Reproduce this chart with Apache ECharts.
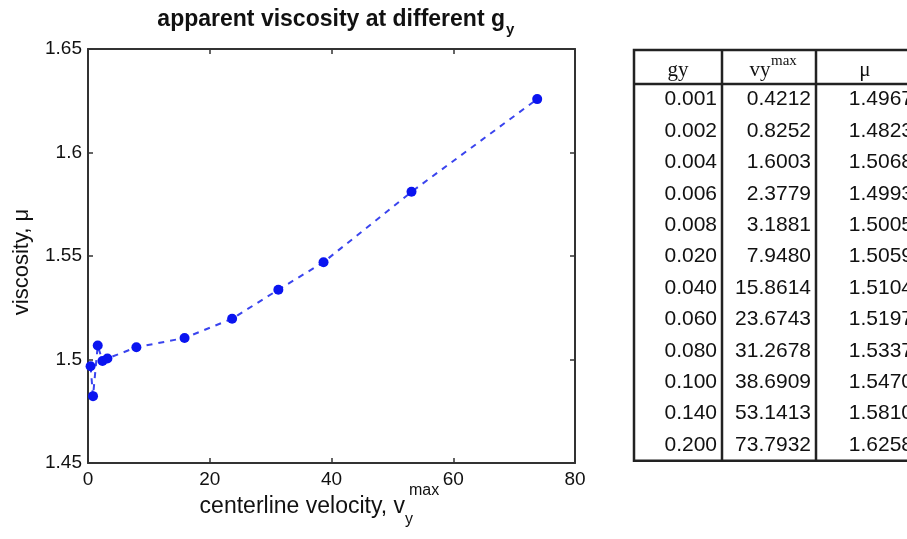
<!DOCTYPE html>
<html><head><meta charset="utf-8">
<script src="https://cdn.jsdelivr.net/npm/echarts@6/dist/echarts.min.js"></script>
<style>html,body{margin:0;padding:0;background:#fff}#c{width:907px;height:539px}</style>
</head><body><div id="c"></div>
<script>
// ---- data ----
const gy = [0.001,0.002,0.004,0.006,0.008,0.020,0.040,0.060,0.080,0.100,0.140,0.200];
const vmax = [0.4212,0.8252,1.6003,2.3779,3.1881,7.9480,15.8614,23.6743,31.2678,38.6909,53.1413,73.7932];
const mu = [1.4967,1.4823,1.5068,1.4993,1.5005,1.5059,1.5104,1.5197,1.5337,1.5470,1.5810,1.6258];
const xTicks = [0,20,40,60,80];
const yTicks = [1.45,1.5,1.55,1.6,1.65];

const chart = echarts.init(document.getElementById('c'), null, {renderer:'canvas'});
const FONT = 'Liberation Sans, Arial, sans-serif';
const SERIF = 'Liberation Serif, Times New Roman, serif';
const axisCommon = {
  axisLine:{show:true, onZero:false, lineStyle:{color:'#333', width:2}},
  axisTick:{show:true, inside:true, length:5, lineStyle:{color:'#333', width:1.5}},
  splitLine:{show:false}
};
const pts = vmax.map((v,i)=>[v, mu[i]]);

// ---- table via graphic ----
const colX = [634, 722, 816, 918];
const tTop = 50, hBot = 84, rowH = 31.4;
const tBot = hBot + rowH*gy.length;
const g = [];
const ls = {stroke:'#222', lineWidth:2.5};
g.push({type:'rect', shape:{x:colX[0], y:tTop, width:colX[3]-colX[0], height:tBot-tTop}, style:{fill:'none', stroke:'#222', lineWidth:2.5}});
g.push({type:'line', shape:{x1:colX[0], y1:hBot, x2:colX[3], y2:hBot}, style:ls});
g.push({type:'line', shape:{x1:colX[1], y1:tTop, x2:colX[1], y2:tBot}, style:ls});
g.push({type:'line', shape:{x1:colX[2], y1:tTop, x2:colX[2], y2:tBot}, style:ls});
// header
const hy = 70;
g.push({type:'text', x:(colX[0]+colX[1])/2, y:hy, style:{text:'gy', font:'21px '+SERIF, fill:'#111', align:'center', verticalAlign:'middle'}});
g.push({type:'text', x:760, y:hy, style:{text:'vy', font:'21px '+SERIF, fill:'#111', align:'center', verticalAlign:'middle'}});
g.push({type:'text', x:771, y:hy-9, style:{text:'max', font:'15px '+SERIF, fill:'#111', align:'left', verticalAlign:'middle'}});
g.push({type:'text', x:865, y:hy, style:{text:'\u03bc', font:'21px '+SERIF, fill:'#111', align:'center', verticalAlign:'middle'}});
for (let i=0;i<gy.length;i++){
  const y = hBot + rowH*(i+0.5);
  const vals = [gy[i].toFixed(3), vmax[i].toFixed(4), mu[i].toFixed(4)];
  for (let c=0;c<3;c++){
    g.push({type:'text', x:colX[c+1]-5, y:y, style:{text:vals[c], font:'21px '+FONT, fill:'#111', align:'right', verticalAlign:'middle'}});
  }
}
// title
g.push({type:'text', x:505, y:20, style:{text:'apparent viscosity at different g', font:'bold 23px '+FONT, fill:'#111', align:'right', verticalAlign:'middle'}});
g.push({type:'text', x:506, y:30, style:{text:'y', font:'bold 15px '+FONT, fill:'#111', align:'left', verticalAlign:'middle'}});
// x axis name
g.push({type:'text', x:405, y:507, style:{text:'centerline velocity, v', font:'23px '+FONT, fill:'#111', align:'right', verticalAlign:'middle'}});
g.push({type:'text', x:405, y:520, style:{text:'y', font:'16px '+FONT, fill:'#111', align:'left', verticalAlign:'middle'}});
g.push({type:'text', x:409, y:491, style:{text:'max', font:'16px '+FONT, fill:'#111', align:'left', verticalAlign:'middle'}});
// y axis name
g.push({type:'text', x:22, y:262, rotation:Math.PI/2, style:{text:'viscosity, \u03bc', font:'22px '+FONT, fill:'#111', align:'center', verticalAlign:'middle'}});

chart.setOption({
  backgroundColor:'#fff',
  animation:false,
  grid:{left:88, right:332, top:49, bottom:76, containLabel:false},
  xAxis:[
    Object.assign({type:'value', min:xTicks[0], max:xTicks[xTicks.length-1], interval:20, position:'bottom',
      axisLabel:{color:'#111', fontSize:19, fontFamily:FONT, margin:7}}, axisCommon),
    Object.assign({type:'value', min:xTicks[0], max:xTicks[xTicks.length-1], interval:20, position:'top',
      axisLabel:{show:false}}, axisCommon)
  ],
  yAxis:[
    Object.assign({type:'value', min:yTicks[0], max:yTicks[yTicks.length-1], interval:0.05, position:'left',
      axisLabel:{color:'#111', fontSize:19, fontFamily:FONT, margin:6, formatter:v=>String(+v.toFixed(2))}}, axisCommon),
    Object.assign({type:'value', min:yTicks[0], max:yTicks[yTicks.length-1], interval:0.05, position:'right',
      axisLabel:{show:false}}, axisCommon)
  ],
  series:[{
    type:'line', data:pts, xAxisIndex:0, yAxisIndex:0,
    symbol:'circle', symbolSize:10,
    itemStyle:{color:'#0a14f0'},
    lineStyle:{color:'#3a44ee', width:2, type:[6,6]}
  }],
  graphic:g
});
</script></body></html>
